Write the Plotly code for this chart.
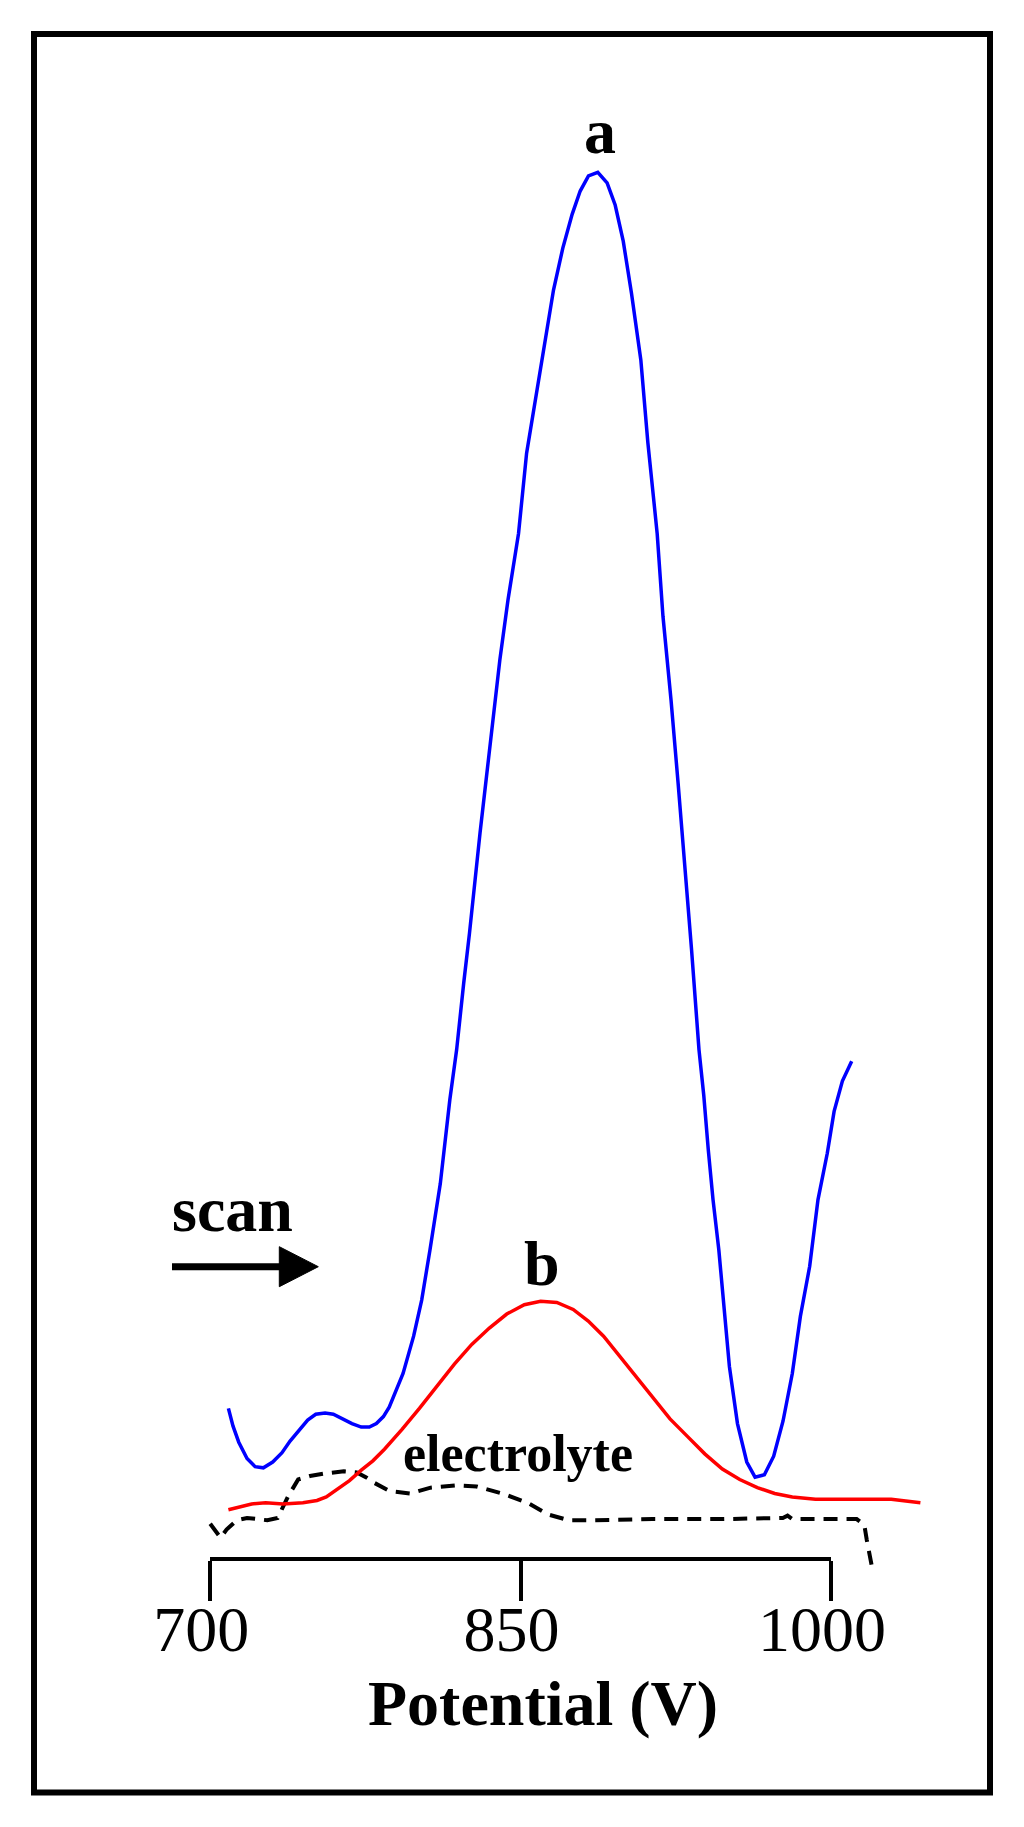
import plotly.graph_objects as go

# Curve a (blue): potential and current (arbitrary units).
a_potential = [708.8, 711.0, 713.8, 717.8, 721.7, 725.7, 730.2, 734.7, 738.6, 743.1,
               747.1, 751.0, 755.5, 759.5, 764.0, 768.5, 773.0, 776.9, 780.3, 783.7,
               786.5, 788.7, 793.2, 798.3, 802.2, 806.2, 811.2, 815.8, 819.1, 822.5,
               825.3, 830.4, 835.5, 840.0, 843.9, 849.0, 852.9, 856.9, 861.9, 865.9,
               870.4, 874.9, 878.8, 882.8, 887.3, 891.8, 895.7, 899.6, 903.6, 908.1,
               911.5, 916.0, 918.8, 922.7, 926.1, 929.5, 932.6, 936.2, 938.5, 940.7,
               943.0, 945.8, 948.1, 950.9, 954.8, 959.3, 963.3, 967.8, 972.3, 976.8,
               981.3, 985.2, 989.7, 993.7, 998.2, 1001.5, 1005.5, 1010.0]
a_current = [12.9, 11.4, 10.0, 8.6, 7.9, 7.8, 8.3, 9.1, 10.1, 11.0,
             11.9, 12.4, 12.5, 12.4, 12.0, 11.6, 11.3, 11.3, 11.6, 12.2,
             13.0, 13.9, 15.9, 19.1, 22.2, 26.5, 32.2, 39.4, 43.7, 49.4,
             53.7, 62.3, 70.3, 77.2, 82.3, 88.0, 94.9, 99.2, 104.3, 108.9,
             112.5, 115.4, 117.4, 118.7, 119.0, 118.1, 116.2, 113.1, 108.6, 102.9,
             95.8, 88.0, 80.9, 73.7, 66.6, 59.4, 52.3, 43.7, 39.8, 35.1,
             30.8, 26.5, 22.2, 16.5, 11.6, 8.3, 7.0, 7.2, 8.8, 11.8,
             15.9, 20.8, 25.1, 30.8, 34.8, 38.4, 41.0, 42.7]

# Curve b (red).
b_potential = [708.8, 713.8, 720.0, 726.8, 735.2, 744.8, 751.6, 756.1, 761.7, 767.3,
               773.0, 778.6, 784.2, 792.7, 801.1, 809.6, 818.0, 826.4, 834.9, 843.3,
               851.8, 859.7, 867.5, 875.4, 882.7, 890.1, 896.8, 905.3, 913.7, 922.2,
               930.6, 939.0, 947.5, 955.9, 964.4, 972.8, 981.3, 992.5, 1003.8, 1015.1,
               1029.1, 1043.2]
b_current = [4.2, 4.4, 4.7, 4.8, 4.7, 4.8, 5.0, 5.3, 6.0, 6.7,
             7.6, 8.4, 9.4, 11.1, 12.9, 14.8, 16.7, 18.4, 19.8, 21.0,
             21.8, 22.1, 22.0, 21.4, 20.4, 19.1, 17.6, 15.7, 13.8, 12.0,
             10.5, 9.0, 7.7, 6.8, 6.1, 5.6, 5.3, 5.1, 5.1, 5.1,
             5.1, 4.8]

# Supporting electrolyte (black dashed).
e_potential = [700.0, 705.0, 707.9, 712.8, 717.8, 727.6, 732.6, 737.5, 742.5, 748.2,
               754.8, 764.6, 770.8, 775.2, 779.4, 786.8, 796.7, 806.5, 818.9, 828.7,
               841.1, 853.4, 863.3, 873.2, 883.0, 913.7, 947.5, 976.7, 979.0, 981.3,
               1012.4, 1016.1, 1017.3, 1019.8]
e_current = [3.0, 1.8, 2.5, 3.3, 3.5, 3.3, 3.5, 5.3, 6.8, 7.1,
             7.3, 7.5, 7.4, 7.0, 6.5, 5.8, 5.6, 6.1, 6.3, 6.2,
             5.6, 4.8, 3.8, 3.3, 3.3, 3.4, 3.4, 3.5, 3.7, 3.4,
             3.4, 2.9, 1.6, -0.7]

tick_values = [700, 850, 1000]
tick_labels = ['700', '850', '1000']

# Page geometry (body margin of the html page is 8px).
W, H, OFF = 1008, 1811, 8
X700_PX, X1000_PX = 210.2, 831.0
PX_PER_X = (X1000_PX - X700_PX) / 300.0
Y0_PX, PX_PER_Y = 1558.7, 11.6496

x_lo = 700 + (OFF - X700_PX) / PX_PER_X
x_hi = 700 + (OFF + W - X700_PX) / PX_PER_X
y_hi = (Y0_PX - OFF) / PX_PER_Y
y_lo = (Y0_PX - OFF - H) / PX_PER_Y


def fx(px):
    return (px - OFF) / W


def fy(py):
    return 1 - (py - OFF) / H


SERIF = 'Liberation Serif'

fig = go.Figure()
fig.add_trace(go.Scatter(x=e_potential, y=e_current, mode='lines',
                         line=dict(color='black', width=4, dash='14px,9px')))
fig.add_trace(go.Scatter(x=b_potential, y=b_current, mode='lines',
                         line=dict(color='#ff0000', width=3.5)))
fig.add_trace(go.Scatter(x=a_potential, y=a_current, mode='lines',
                         line=dict(color='#0000ff', width=3.5)))
# Trace that only carries the visible potential axis.
fig.add_trace(go.Scatter(x=[700, 1000], y=[None, None], mode='lines',
                         xaxis='x2', yaxis='y', hoverinfo='skip'))

fig.update_layout(
    template='none',
    width=W, height=H, autosize=False,
    margin=dict(l=0, r=0, t=0, b=0, pad=0),
    paper_bgcolor='white', plot_bgcolor='rgba(0,0,0,0)',
    showlegend=False,
    xaxis=dict(range=[x_lo, x_hi], domain=[0, 1], visible=False,
               automargin=False),
    yaxis=dict(range=[y_lo, y_hi], domain=[0, 1], visible=False,
               automargin=False),
    xaxis2=dict(
        domain=[fx(X700_PX), fx(X1000_PX)], range=[700, 1000],
        anchor='free', position=fy(Y0_PX), automargin=False,
        showline=True, linewidth=4, linecolor='black',
        showgrid=False, zeroline=False,
        ticks='outside', ticklen=40, tickwidth=4, tickcolor='black',
        tickvals=tick_values, ticktext=tick_labels,
        ticklabelshift=-9, ticklabelstandoff=-27,
        tickfont=dict(family=SERIF, size=64, color='black'),
    ),
)

# Frame round the figure.
fig.add_shape(type='rect', xref='paper', yref='paper',
              x0=fx(34), x1=fx(990), y0=fy(34), y1=fy(1792.5),
              line=dict(color='black', width=6))

# Scan direction arrow.
fig.add_shape(type='line', xref='paper', yref='paper',
              x0=fx(172), x1=fx(284), y0=fy(1266.7), y1=fy(1266.7),
              line=dict(color='black', width=7))
fig.add_shape(type='path', xref='paper', yref='paper',
              path=f'M {fx(279.3)} {fy(1246.7)} L {fx(318.3)} {fy(1266.7)} '
                   f'L {fx(279.3)} {fy(1286.7)} Z',
              fillcolor='black', line=dict(color='black', width=1))


def label(text, cx, baseline, size, weight='bold'):
    fig.add_annotation(
        text=text, xref='paper', yref='paper',
        x=fx(cx), y=fy(baseline - 0.34 * size),
        xanchor='center', yanchor='middle', showarrow=False,
        font=dict(family=SERIF, size=size, color='black', weight=weight),
    )


label('a', 600, 153.3, 64)
label('b', 541.5, 1285, 64)
label('scan', 232.5, 1231.7, 64)
label('electrolyte', 518, 1470.7, 52)
label('Potential (V)', 542.5, 1725.7, 64)

fig.write_html('out.html')
